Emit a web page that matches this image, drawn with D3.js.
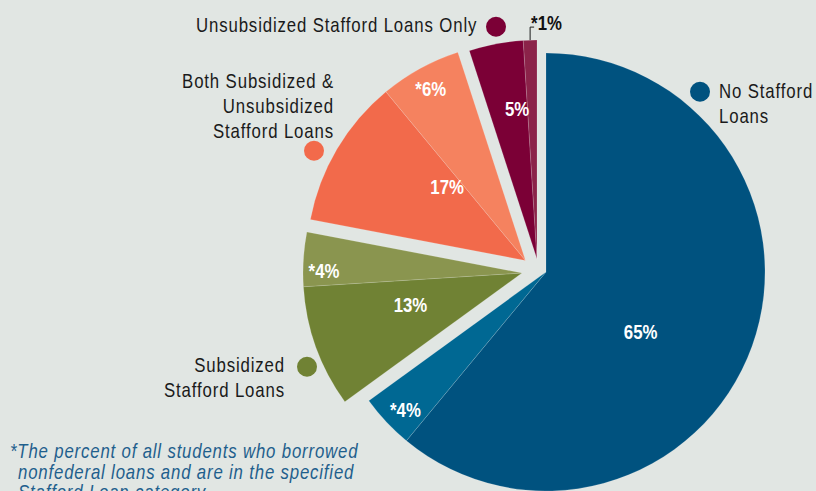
<!DOCTYPE html>
<html>
<head>
<meta charset="utf-8">
<script src="https://cdn.jsdelivr.net/npm/d3@7/dist/d3.min.js"></script>
<style>
  html, body { margin: 0; padding: 0; background: #e1e6e3; }
  svg { display: block; }
  .legend { font-family: "Liberation Sans", Arial, sans-serif; font-size: 20.5px; letter-spacing: 1.05px; fill: #1a1a1a; }
  .pct { font-family: "Liberation Sans", Arial, sans-serif; font-size: 20.5px; font-weight: bold; fill: #ffffff; }
  .note { font-family: "Liberation Sans", Arial, sans-serif; font-size: 20.5px; font-style: italic; letter-spacing: 1.0px; fill: #1f5f8d; }
</style>
</head>
<body>
<svg id="chart" width="816" height="491"></svg>
<script>
// Stafford loan categories, clockwise from 12 o'clock
const categories = [
  "No Stafford Loans",
  "Subsidized Stafford Loans",
  "Both Subsidized & Unsubsidized Stafford Loans",
  "Unsubsidized Stafford Loans Only"
];
// Share of all students in each category (%)
const categoryShares = [65, 13, 17, 5];
// Share of all students who also borrowed nonfederal loans, within each category (%)
const nonfederalShares = [4, 4, 6, 1];
// Legend text lines for each category
const legendLines = [
  ["No Stafford", "Loans"],
  ["Subsidized", "Stafford Loans"],
  ["Both Subsidized &", "Unsubsidized", "Stafford Loans"],
  ["Unsubsidized Stafford Loans Only"]
];
const footnoteLines = [
  "*The percent of all students who borrowed",
  "nonfederal loans and are in the specified",
  "Stafford Loan category."
];

// Colours: [main slice, nonfederal sub-slice]
const palette = [
  ["#00527f", "#006893"],
  ["#708234", "#8a954f"],
  ["#f26a4b", "#f5825f"],
  ["#7b0036", "#8b2349"]
];

// Condensed type: glyphs are narrowed horizontally
const SX = 0.82;

const svg = d3.select("#chart");
const cx = 546, cy = 272, R = 219;
// Exploded groups are pulled slightly away from the centre
const groupShift = [[0, 0], [-24, 1], [-20.5, -11.5], [-9, -13]];

const total = d3.sum(categoryShares);
const angle = d3.scaleLinear().domain([0, total]).range([0, 2 * Math.PI]);

const pie = d3.pie().sort(null).value(d => d)
  .startAngle(0).endAngle(2 * Math.PI);
const arcs = pie(categoryShares);
const arcGen = d3.arc().innerRadius(0).outerRadius(R);

// Split each category arc into its main part and the nonfederal part at its end
const slices = [];
arcs.forEach((a, i) => {
  const split = a.endAngle - angle(nonfederalShares[i]);
  slices.push({ group: i, kind: 0, startAngle: a.startAngle, endAngle: split, value: categoryShares[i] });
  slices.push({ group: i, kind: 1, startAngle: split, endAngle: a.endAngle, value: nonfederalShares[i] });
});

const groups = svg.selectAll("g.grp")
  .data(arcs)
  .join("g")
  .attr("class", "grp")
  .attr("transform", (d, i) => `translate(${cx + groupShift[i][0]},${cy + groupShift[i][1]})`);

groups.selectAll("path")
  .data((d, i) => slices.filter(s => s.group === i))
  .join("path")
  .attr("d", arcGen)
  .attr("fill", s => palette[s.group][s.kind])
  .attr("stroke", "rgba(255,255,255,0.25)")
  .attr("stroke-width", 0.6);

// Helper: condensed text anchored at (x, y)
function condensed(parent, x, y) {
  return parent.append("g")
    .attr("transform", `translate(${x},${y}) scale(${SX},1)`)
    .append("text");
}

// Value labels placed in polar coordinates around each group's apex
const deg = Math.PI / 180;
const labelPolar = [
  [[122.3, 112], [225.5, 197]],
  [[254, 116], [270.6, 198]],
  [[313.5, 108], [331.1, 196]],
  [[352.5, 152], null]
];
const polar = (a, r) => [r * Math.sin(a * deg), -r * Math.cos(a * deg)];

groups.each(function (d, i) {
  const g = d3.select(this);
  const [pm, ps] = labelPolar[i];
  const p0 = polar(pm[0], pm[1]);
  condensed(g, p0[0], p0[1]).attr("class", "pct")
    .attr("dy", "0.36em")
    .attr("text-anchor", "middle")
    .text(categoryShares[i] + "%");
  if (ps) {
    const p1 = polar(ps[0], ps[1]);
    condensed(g, p1[0], p1[1]).attr("class", "pct")
      .attr("dy", "0.36em")
      .attr("text-anchor", "middle")
      .text("*" + nonfederalShares[i] + "%");
  } else {
    // Thin sub-slice: label sits outside with a leader line
    const s = slices.find(t => t.group === i && t.kind === 1);
    const mid = (s.startAngle + s.endAngle) / 2;
    const x0 = R * Math.sin(mid), y0 = -R * Math.cos(mid);
    g.append("path")
      .attr("d", `M${x0},${y0}V${y0 - 13}h4`)
      .attr("fill", "none").attr("stroke", "#1c1c1c").attr("stroke-width", 1);
    condensed(g, x0 + 1, y0 - 10.5).attr("class", "pct")
      .style("fill", "#111")
      .text("*" + nonfederalShares[i] + "%");
  }
});

// Legend: dot + text block per category
const legendSpec = [
  { dot: [700, 91.7], x: 719, y: 97.5, anchor: "start" },
  { dot: [307, 366.7], x: 285, y: 372, anchor: "end" },
  { dot: [314, 150.7], x: 334, y: 87.5, anchor: "end" },
  { dot: [496, 26.7], x: 196, y: 32, anchor: "start" }
];
const lineGap = 25.5;

const legend = svg.append("g").selectAll("g")
  .data(categories)
  .join("g");

legend.append("circle")
  .attr("cx", (d, i) => legendSpec[i].dot[0])
  .attr("cy", (d, i) => legendSpec[i].dot[1])
  .attr("r", 10)
  .attr("fill", (d, i) => palette[i][0]);

legend.each(function (d, i) {
  const spec = legendSpec[i];
  condensed(d3.select(this), spec.x, spec.y)
    .attr("class", "legend")
    .attr("text-anchor", spec.anchor)
    .selectAll("tspan")
    .data(legendLines[i])
    .join("tspan")
    .attr("x", 0)
    .attr("dy", (t, k) => k === 0 ? 0 : lineGap)
    .text(t => t);
});

// Footnote
const note = svg.append("g");
footnoteLines.forEach((t, k) => {
  condensed(note, k === 0 ? 10 : 18, 458.3 + k * 20.3)
    .attr("class", "note")
    .text(t);
});
</script>
</body>
</html>
